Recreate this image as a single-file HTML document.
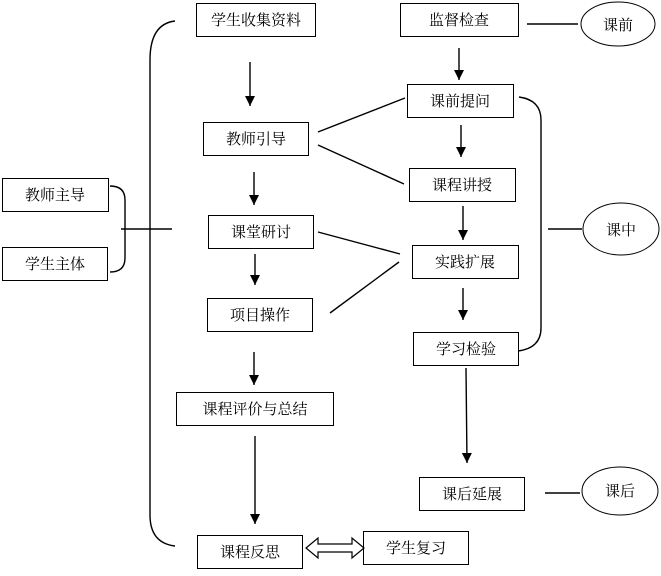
<!DOCTYPE html>
<html><head><meta charset="utf-8"><style>
html,body{margin:0;padding:0;background:#fff;}
text{font-family:"Liberation Serif","Noto Serif CJK SC","Noto Sans CJK SC",serif;font-size:15px;fill:#000;}
</style></head><body>
<svg width="661" height="571" viewBox="0 0 661 571" xmlns="http://www.w3.org/2000/svg">
<defs><marker id="a" markerWidth="10" markerHeight="10" refX="10" refY="5" orient="auto" markerUnits="userSpaceOnUse"><path d="M0,0 L10,5 L0,10 Z" fill="#000"/></marker></defs>
<g fill="#fff" stroke="#000" stroke-width="1">
<rect x="196.5" y="3.5" width="119" height="33"/>
<rect x="203.5" y="122.5" width="105" height="33"/>
<rect x="208.5" y="215.5" width="105" height="33"/>
<rect x="207.5" y="298.5" width="105" height="33"/>
<rect x="176.5" y="392.5" width="157" height="33"/>
<rect x="197.5" y="535.5" width="105" height="33"/>
<rect x="363.5" y="531.5" width="105" height="33"/>
<rect x="2.5" y="178.5" width="106" height="33"/>
<rect x="2.5" y="247.5" width="105" height="33"/>
<rect x="400.5" y="3.5" width="118" height="33"/>
<rect x="407.5" y="84.5" width="106" height="33"/>
<rect x="409.5" y="168.5" width="106" height="33"/>
<rect x="412.5" y="245.5" width="106" height="33"/>
<rect x="413.5" y="332.5" width="105" height="33"/>
<rect x="419.5" y="477.5" width="105" height="33"/>
<ellipse cx="618" cy="24" rx="37" ry="22"/>
<ellipse cx="621" cy="229" rx="38" ry="26"/>
<ellipse cx="620" cy="491" rx="38" ry="24"/>
</g>
<g fill="none" stroke="#000" stroke-width="1.4">
<path d="M175,21 Q150,24 150,60 L150,515 Q150,543 175,546"/>
<path d="M110,186 Q125,186 125,200 L125,258 Q125,272 110,272"/>
<path d="M519,97 Q541,100 541,120 L541,328 Q541,348 518,351"/>
<line x1="121" y1="229" x2="172" y2="229"/>
<line x1="527" y1="24" x2="578" y2="24"/>
<line x1="548" y1="229" x2="582" y2="229"/>
<line x1="545" y1="493" x2="580" y2="493"/>
<line x1="318" y1="132" x2="405" y2="98"/>
<line x1="318" y1="145" x2="404" y2="184"/>
<line x1="318" y1="232" x2="400" y2="254"/>
<line x1="330" y1="313" x2="399" y2="262"/>
<line x1="250" y1="62" x2="250" y2="106" marker-end="url(#a)"/>
<line x1="254" y1="172" x2="254" y2="205" marker-end="url(#a)"/>
<line x1="255" y1="254" x2="255" y2="285" marker-end="url(#a)"/>
<line x1="254" y1="352" x2="254" y2="385" marker-end="url(#a)"/>
<line x1="255" y1="436" x2="255" y2="524" marker-end="url(#a)"/>
<line x1="459" y1="48" x2="459" y2="80" marker-end="url(#a)"/>
<line x1="461" y1="125" x2="461" y2="157" marker-end="url(#a)"/>
<line x1="463" y1="206" x2="463" y2="240" marker-end="url(#a)"/>
<line x1="463" y1="288" x2="463" y2="320" marker-end="url(#a)"/>
<line x1="466" y1="368" x2="467" y2="463" marker-end="url(#a)"/>
</g>
<path d="M306,548 L318,538 L318,544 L352,544 L352,538 L364,548 L352,558 L352,552 L318,552 L318,558 Z" fill="#fff" stroke="#000" stroke-width="1.2"/>
<g text-anchor="middle">
<text x="256" y="25">学生收集资料</text>
<text x="256" y="144">教师引导</text>
<text x="261" y="237">课堂研讨</text>
<text x="260" y="320">项目操作</text>
<text x="255" y="414">课程评价与总结</text>
<text x="250" y="557">课程反思</text>
<text x="416" y="553">学生复习</text>
<text x="55" y="200">教师主导</text>
<text x="55" y="269">学生主体</text>
<text x="459" y="25">监督检查</text>
<text x="460" y="106">课前提问</text>
<text x="462" y="190">课程讲授</text>
<text x="465" y="267">实践扩展</text>
<text x="466" y="354">学习检验</text>
<text x="472" y="499">课后延展</text>
<text x="618" y="30">课前</text>
<text x="621" y="235">课中</text>
<text x="620" y="496">课后</text>
</g>
</svg>
</body></html>
